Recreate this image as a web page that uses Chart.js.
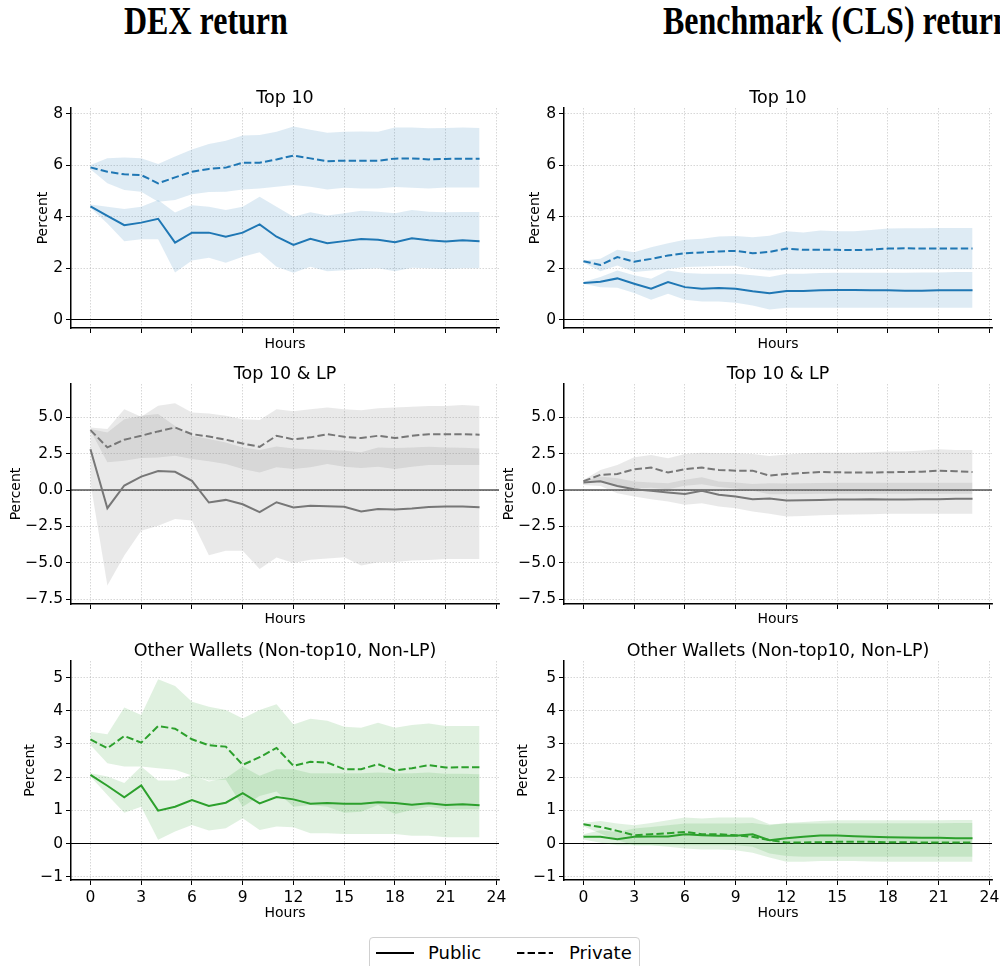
<!DOCTYPE html>
<html>
<head>
<meta charset="utf-8">
<script src="https://cdn.jsdelivr.net/npm/chart.js@4.4.1/dist/chart.umd.min.js"></script>
<style>
  body { margin: 0; width: 1000px; height: 966px; overflow: hidden; background: #fff; position: relative; font-family: "DejaVu Sans", sans-serif; }
  canvas { position: absolute; }
  .suptitle { position: absolute; top: 1px; font-family: "Liberation Serif", serif; font-weight: bold; font-size: 40px; line-height: 40px; white-space: nowrap; transform: scaleX(0.8); transform-origin: 0 0; color: #000; }
  #legend { position: absolute; left: 369px; top: 937px; width: 269px; height: 40px; border: 1px solid #d0d0d0; border-radius: 4px; background: #fff; }
  #legend svg { position: absolute; top: 13px; }
  #legend span { position: absolute; top: 4px; font-size: 18px; line-height: 22px; color: #000; }
</style>
</head>
<body>
<div class="suptitle" style="left:124px">DEX return</div>
<div class="suptitle" style="left:663px">Benchmark (CLS) return</div>

<canvas id="dexTop" width="520" height="270" style="left:0; top:88px"></canvas>
<canvas id="clsTop" width="500" height="270" style="left:500px; top:88px"></canvas>
<canvas id="dexLp" width="520" height="270" style="left:0; top:364px"></canvas>
<canvas id="clsLp" width="500" height="270" style="left:500px; top:364px"></canvas>
<canvas id="dexOth" width="520" height="281" style="left:0; top:641px"></canvas>
<canvas id="clsOth" width="500" height="281" style="left:500px; top:641px"></canvas>

<div id="legend">
  <svg width="38" height="4" style="left:6px"><line x1="0" y1="2" x2="38" y2="2" stroke="#000" stroke-width="2"/></svg>
  <span style="left:58px">Public</span>
  <svg width="36" height="4" style="left:147px"><line x1="0" y1="2" x2="36" y2="2" stroke="#000" stroke-width="2" stroke-dasharray="7.4 3.2"/></svg>
  <span style="left:199px">Private</span>
</div>

<script>
const hours = [0, 1, 2, 3, 4, 5, 6, 7, 8, 9, 10, 11, 12, 13, 14, 15, 16, 17, 18, 19, 20, 21, 22, 23];

// DEX, top 10
const dexTopPub = [4.40, 4.03, 3.67, 3.77, 3.92, 2.99, 3.38, 3.38, 3.22, 3.38, 3.70, 3.22, 2.90, 3.14, 2.97, 3.05, 3.13, 3.10, 3.01, 3.16, 3.08, 3.04, 3.08, 3.05];
const dexTopPubHi = [4.48, 4.39, 4.30, 4.39, 4.65, 4.16, 4.45, 4.39, 4.26, 4.39, 4.78, 4.39, 4.00, 4.17, 4.05, 4.13, 4.23, 4.19, 4.13, 4.26, 4.19, 4.17, 4.18, 4.18];
const dexTopPubLo = [4.35, 3.74, 3.05, 3.12, 3.12, 1.83, 2.30, 2.40, 2.21, 2.44, 2.62, 2.05, 1.82, 2.05, 1.88, 1.92, 1.97, 1.99, 1.88, 2.01, 1.99, 1.97, 1.99, 1.99];
const dexTopPriv = [5.92, 5.75, 5.65, 5.62, 5.30, 5.53, 5.75, 5.86, 5.91, 6.10, 6.10, 6.23, 6.38, 6.27, 6.16, 6.18, 6.18, 6.18, 6.26, 6.27, 6.23, 6.25, 6.26, 6.26];
const dexTopPrivHi = [6.01, 6.27, 6.30, 6.27, 6.05, 6.34, 6.62, 6.83, 6.96, 7.16, 7.18, 7.31, 7.51, 7.38, 7.27, 7.31, 7.32, 7.31, 7.47, 7.47, 7.44, 7.45, 7.47, 7.45];
const dexTopPrivLo = [5.85, 5.30, 5.04, 4.97, 4.58, 4.65, 4.87, 4.96, 4.97, 5.06, 5.10, 5.17, 5.23, 5.17, 5.06, 5.13, 5.10, 5.10, 5.16, 5.13, 5.10, 5.14, 5.14, 5.14];

// CLS, top 10
const clsTopPub = [1.42, 1.47, 1.60, 1.39, 1.20, 1.46, 1.26, 1.20, 1.23, 1.20, 1.10, 1.02, 1.11, 1.11, 1.14, 1.15, 1.15, 1.14, 1.14, 1.12, 1.12, 1.14, 1.14, 1.14];
const clsTopPubHi = [1.46, 1.65, 1.91, 1.72, 1.59, 1.91, 1.81, 1.78, 1.78, 1.78, 1.72, 1.65, 1.78, 1.78, 1.81, 1.82, 1.82, 1.82, 1.82, 1.82, 1.83, 1.83, 1.85, 1.85];
const clsTopPubLo = [1.39, 1.26, 1.24, 1.03, 0.77, 1.00, 0.77, 0.70, 0.70, 0.65, 0.55, 0.39, 0.46, 0.46, 0.46, 0.46, 0.46, 0.46, 0.46, 0.46, 0.46, 0.46, 0.46, 0.46];
const clsTopPriv = [2.27, 2.12, 2.43, 2.25, 2.36, 2.49, 2.58, 2.61, 2.65, 2.67, 2.58, 2.63, 2.76, 2.71, 2.71, 2.71, 2.70, 2.72, 2.76, 2.77, 2.76, 2.76, 2.76, 2.76];
const clsTopPrivHi = [2.30, 2.36, 2.71, 2.62, 2.81, 2.97, 3.10, 3.14, 3.23, 3.25, 3.20, 3.26, 3.43, 3.39, 3.46, 3.43, 3.43, 3.48, 3.54, 3.55, 3.55, 3.56, 3.56, 3.56];
const clsTopPrivLo = [2.22, 1.88, 2.10, 1.85, 1.91, 1.97, 2.04, 2.06, 2.08, 2.09, 1.97, 1.91, 1.96, 1.96, 1.96, 1.96, 1.96, 1.96, 1.97, 1.96, 1.96, 1.96, 1.96, 1.96];

// DEX, top 10 & LP
const dexLpPub = [2.80, -1.25, 0.31, 0.92, 1.31, 1.25, 0.63, -0.86, -0.68, -0.98, -1.52, -0.84, -1.20, -1.09, -1.11, -1.16, -1.48, -1.30, -1.34, -1.27, -1.17, -1.14, -1.14, -1.19];
const dexLpPubHi = [4.19, 3.96, 4.87, 5.10, 5.22, 4.41, 3.73, 3.50, 3.27, 2.93, 2.75, 3.00, 2.86, 2.81, 2.75, 2.70, 2.59, 2.93, 2.88, 2.93, 2.97, 2.93, 2.90, 2.86];
const dexLpPubLo = [0.50, -6.57, -4.50, -2.80, -2.45, -1.99, -2.10, -4.48, -4.18, -4.17, -5.43, -4.65, -5.02, -4.80, -4.71, -4.62, -5.19, -4.97, -4.95, -4.85, -4.82, -4.74, -4.74, -4.74];
const dexLpPriv = [4.12, 2.93, 3.46, 3.73, 4.03, 4.30, 3.84, 3.68, 3.46, 3.20, 2.97, 3.73, 3.48, 3.62, 3.84, 3.66, 3.57, 3.73, 3.57, 3.73, 3.84, 3.84, 3.84, 3.80];
const dexLpPrivHi = [4.30, 4.19, 5.56, 5.03, 5.79, 5.97, 5.33, 5.26, 5.10, 4.87, 4.81, 5.56, 5.42, 5.56, 5.68, 5.56, 5.49, 5.63, 5.68, 5.72, 5.77, 5.77, 5.84, 5.77];
const dexLpPrivLo = [4.10, 1.90, 2.01, 2.20, 2.24, 2.36, 2.13, 1.97, 1.78, 1.44, 1.21, 1.56, 1.44, 1.56, 1.78, 1.60, 1.51, 1.60, 1.44, 1.60, 1.72, 1.72, 1.72, 1.72];

// CLS, top 10 & LP
const clsLpPub = [0.51, 0.60, 0.28, 0.05, -0.06, -0.17, -0.27, -0.06, -0.33, -0.45, -0.63, -0.59, -0.72, -0.70, -0.68, -0.65, -0.65, -0.63, -0.65, -0.65, -0.63, -0.63, -0.61, -0.61];
const clsLpPubHi = [0.58, 0.92, 0.81, 0.58, 0.51, 0.47, 0.70, 0.88, 0.58, 0.51, 0.42, 0.47, 0.45, 0.47, 0.48, 0.50, 0.50, 0.50, 0.50, 0.50, 0.50, 0.50, 0.50, 0.50];
const clsLpPubLo = [0.35, 0.28, -0.22, -0.45, -0.63, -0.79, -1.02, -0.91, -1.14, -1.25, -1.48, -1.64, -1.82, -1.78, -1.73, -1.71, -1.69, -1.66, -1.64, -1.64, -1.64, -1.64, -1.64, -1.64];
const clsLpPriv = [0.60, 1.04, 1.10, 1.43, 1.54, 1.20, 1.43, 1.54, 1.38, 1.33, 1.33, 0.99, 1.10, 1.17, 1.24, 1.22, 1.20, 1.20, 1.22, 1.24, 1.26, 1.33, 1.29, 1.24];
const clsLpPrivHi = [0.69, 1.38, 1.72, 2.25, 2.41, 2.18, 2.48, 2.57, 2.52, 2.52, 2.48, 2.34, 2.45, 2.52, 2.57, 2.57, 2.57, 2.60, 2.64, 2.64, 2.71, 2.80, 2.75, 2.75];
const clsLpPrivLo = [0.50, 0.55, 0.30, 0.10, 0.15, 0.05, 0.30, 0.40, 0.20, 0.10, -0.05, -0.30, -0.30, -0.28, -0.26, -0.25, -0.25, -0.25, -0.25, -0.25, -0.25, -0.25, -0.25, -0.25];

// DEX, other wallets
const dexOthPub = [2.07, 1.74, 1.39, 1.75, 0.99, 1.11, 1.31, 1.13, 1.23, 1.52, 1.21, 1.40, 1.33, 1.20, 1.22, 1.20, 1.20, 1.24, 1.22, 1.17, 1.21, 1.16, 1.18, 1.15];
const dexOthPubHi = [2.12, 2.02, 1.82, 2.32, 1.90, 1.90, 2.07, 1.87, 1.97, 2.32, 2.04, 2.24, 2.24, 2.12, 2.12, 2.12, 2.12, 2.14, 2.12, 2.12, 2.14, 2.10, 2.10, 2.09];
const dexOthPubLo = [2.02, 1.46, 0.93, 1.11, 0.11, 0.36, 0.56, 0.39, 0.46, 0.76, 0.41, 0.51, 0.49, 0.31, 0.31, 0.29, 0.29, 0.29, 0.29, 0.23, 0.23, 0.19, 0.19, 0.19];
const dexOthPriv = [3.14, 2.87, 3.24, 3.04, 3.54, 3.46, 3.14, 2.96, 2.92, 2.37, 2.60, 2.88, 2.34, 2.46, 2.44, 2.24, 2.24, 2.39, 2.20, 2.27, 2.36, 2.29, 2.30, 2.30];
const dexOthPrivHi = [3.37, 3.29, 4.10, 3.87, 4.95, 4.75, 4.27, 4.12, 4.02, 3.77, 4.02, 4.20, 3.59, 3.76, 3.70, 3.52, 3.49, 3.64, 3.49, 3.57, 3.62, 3.54, 3.54, 3.54];
const dexOthPrivLo = [2.97, 2.42, 2.32, 2.32, 2.27, 2.22, 2.05, 1.90, 1.92, 1.11, 1.43, 1.57, 1.11, 1.16, 1.11, 0.93, 0.96, 1.16, 0.89, 1.01, 1.11, 1.03, 1.03, 1.03];

// CLS, other wallets
const clsOthPub = [0.20, 0.20, 0.13, 0.20, 0.21, 0.21, 0.28, 0.25, 0.23, 0.23, 0.28, 0.10, 0.16, 0.20, 0.24, 0.24, 0.22, 0.20, 0.19, 0.18, 0.17, 0.17, 0.16, 0.16];
const clsOthPubHi = [0.28, 0.40, 0.35, 0.45, 0.50, 0.55, 0.60, 0.60, 0.60, 0.60, 0.62, 0.55, 0.62, 0.65, 0.68, 0.70, 0.70, 0.70, 0.70, 0.70, 0.70, 0.70, 0.71, 0.71];
const clsOthPubLo = [0.12, 0.02, -0.05, -0.05, -0.05, -0.05, -0.05, -0.05, -0.05, -0.05, -0.10, -0.30, -0.38, -0.40, -0.40, -0.40, -0.40, -0.40, -0.40, -0.40, -0.40, -0.40, -0.40, -0.40];
const clsOthPriv = [0.58, 0.50, 0.38, 0.25, 0.28, 0.31, 0.35, 0.28, 0.28, 0.25, 0.20, 0.10, 0.03, 0.03, 0.04, 0.05, 0.05, 0.05, 0.04, 0.04, 0.03, 0.03, 0.03, 0.03];
const clsOthPrivHi = [0.62, 0.68, 0.60, 0.55, 0.62, 0.70, 0.78, 0.75, 0.78, 0.78, 0.78, 0.58, 0.60, 0.60, 0.60, 0.61, 0.61, 0.61, 0.61, 0.61, 0.61, 0.61, 0.62, 0.62];
const clsOthPrivLo = [0.52, 0.30, 0.10, -0.05, -0.05, -0.10, -0.15, -0.18, -0.18, -0.20, -0.28, -0.42, -0.55, -0.55, -0.53, -0.53, -0.53, -0.54, -0.55, -0.55, -0.55, -0.55, -0.55, -0.55];

const xTicks = [0, 3, 6, 9, 12, 15, 18, 21, 24];

Chart.defaults.font.family = "DejaVu Sans";
Chart.defaults.color = "#000";

// horizontal line at zero, under the bands
const zeroLine = {
  id: "zeroLine",
  beforeDatasetsDraw(chart) {
    const { ctx, chartArea, scales } = chart;
    const y = scales.y.getPixelForValue(0);
    ctx.save();
    ctx.strokeStyle = "#000";
    ctx.lineWidth = 1.2;
    ctx.beginPath();
    ctx.moveTo(chartArea.left, y);
    ctx.lineTo(chartArea.right, y);
    ctx.stroke();
    ctx.restore();
  },
};

const toPoints = (arr) => arr.map((v, i) => ({ x: hours[i], y: v }));
const minus = (s) => s.replace("-", "\u2212");

function band(values, color, fill) {
  return {
    data: toPoints(values),
    borderColor: "rgba(0,0,0,0)",
    borderWidth: 0,
    backgroundColor: color,
    pointRadius: 0,
    fill: fill,
  };
}

function drawPanel(id, p) {
  const gridOpts = {
    color: "rgba(0,0,0,0.2)",
    lineWidth: 0.8,
    tickColor: "#000",
    tickLength: 5,
    tickWidth: 1,
    tickBorderDash: [],
  };
  const borderOpts = { color: "#000", width: 1.5, dash: [1.5, 1.5] };

  new Chart(document.getElementById(id), {
    type: "line",
    data: {
      datasets: [
        { data: toPoints(p.pub), borderColor: p.color, borderWidth: 2, pointRadius: 0, fill: false },
        { data: toPoints(p.priv), borderColor: p.color, borderWidth: 2, borderDash: [7.4, 3.2], pointRadius: 0, fill: false },
        band(p.pubHi, p.band, "+1"),
        band(p.pubLo, p.band, false),
        band(p.privHi, p.band, "+1"),
        band(p.privLo, p.band, false),
      ],
    },
    options: {
      responsive: false,
      animation: false,
      events: [],
      layout: { padding: { left: 0, right: p.padRight, top: 0, bottom: 0 } },
      plugins: {
        legend: { display: false },
        tooltip: { enabled: false },
        title: {
          display: true,
          text: p.title,
          fullSize: false,
          color: "#000",
          font: { size: 17.5, weight: "normal", lineHeight: "19px" },
          padding: { top: 1, bottom: 0 },
        },
      },
      scales: {
        x: {
          type: "linear",
          min: -1.15,
          max: 24.15,
          afterBuildTicks: (s) => { s.ticks = xTicks.map((v) => ({ value: v })); },
          ticks: {
            padding: 4,
            maxRotation: 0,
            autoSkip: false,
            font: { size: 15.5 },
            callback: (v) => (p.showX ? String(v) : ""),
          },
          grid: gridOpts,
          border: borderOpts,
          title: {
            display: true,
            text: "Hours",
            font: { size: 14, lineHeight: 1.2 },
            padding: { top: 0, bottom: p.hoursPad },
          },
          afterFit: (s) => {
            s.height = p.xh;
            s.paddingLeft = 0;
            s.paddingRight = 0;
          },
        },
        y: {
          min: p.min,
          max: p.max,
          afterBuildTicks: (s) => { s.ticks = p.yTicks.map((v) => ({ value: v })); },
          ticks: {
            padding: 3,
            font: { size: 15.5 },
            callback: (v) => minus(p.decimals ? v.toFixed(1) : String(v)),
          },
          grid: gridOpts,
          border: borderOpts,
          title: {
            display: true,
            text: "Percent",
            font: { size: 14, lineHeight: 1.2 },
            padding: { top: p.yTitlePad, bottom: 0 },
          },
          afterFit: (s) => { s.width = p.yw; },
        },
      },
    },
    plugins: [zeroLine],
  });
}

const blue = { color: "#1f77b4", band: "rgba(31,119,180,0.15)" };
const gray = { color: "#777777", band: "rgba(127,127,127,0.17)" };
const green = { color: "#2ca02c", band: "rgba(44,160,44,0.15)" };

const leftCol = { yw: 71, padRight: 21 };
const rightCol = { yw: 64, padRight: 8 };

const row1 = { title: "Top 10", min: -0.33, max: 8.23, yTicks: [0, 2, 4, 6, 8], decimals: false, xh: 30, hoursPad: 5.5, showX: false };
const row2 = { title: "Top 10 & LP", min: -7.84, max: 7.29, yTicks: [-7.5, -5, -2.5, 0, 2.5, 5], decimals: true, xh: 30, hoursPad: 6, showX: false };
const row3 = { title: "Other Wallets (Non-top10, Non-LP)", min: -1.1, max: 5.5, yTicks: [-1, 0, 1, 2, 3, 4, 5], decimals: false, xh: 42, hoursPad: 0, showX: true };

drawPanel("dexTop", { ...row1, ...leftCol, ...blue, yTitlePad: 34.9, pub: dexTopPub, pubHi: dexTopPubHi, pubLo: dexTopPubLo, priv: dexTopPriv, privHi: dexTopPrivHi, privLo: dexTopPrivLo });
drawPanel("clsTop", { ...row1, ...rightCol, ...blue, yTitlePad: 27.1, pub: clsTopPub, pubHi: clsTopPubHi, pubLo: clsTopPubLo, priv: clsTopPriv, privHi: clsTopPrivHi, privLo: clsTopPrivLo });
drawPanel("dexLp", { ...row2, ...leftCol, ...gray, yTitlePad: 8.3, pub: dexLpPub, pubHi: dexLpPubHi, pubLo: dexLpPubLo, priv: dexLpPriv, privHi: dexLpPrivHi, privLo: dexLpPrivLo });
drawPanel("clsLp", { ...row2, ...rightCol, ...gray, yTitlePad: 0.6, pub: clsLpPub, pubHi: clsLpPubHi, pubLo: clsLpPubLo, priv: clsLpPriv, privHi: clsLpPrivHi, privLo: clsLpPrivLo });
drawPanel("dexOth", { ...row3, ...leftCol, ...green, yTitlePad: 22.3, pub: dexOthPub, pubHi: dexOthPubHi, pubLo: dexOthPubLo, priv: dexOthPriv, privHi: dexOthPrivHi, privLo: dexOthPrivLo });
drawPanel("clsOth", { ...row3, ...rightCol, ...green, yTitlePad: 14.6, pub: clsOthPub, pubHi: clsOthPubHi, pubLo: clsOthPubLo, priv: clsOthPriv, privHi: clsOthPrivHi, privLo: clsOthPrivLo });
</script>
</body>
</html>
